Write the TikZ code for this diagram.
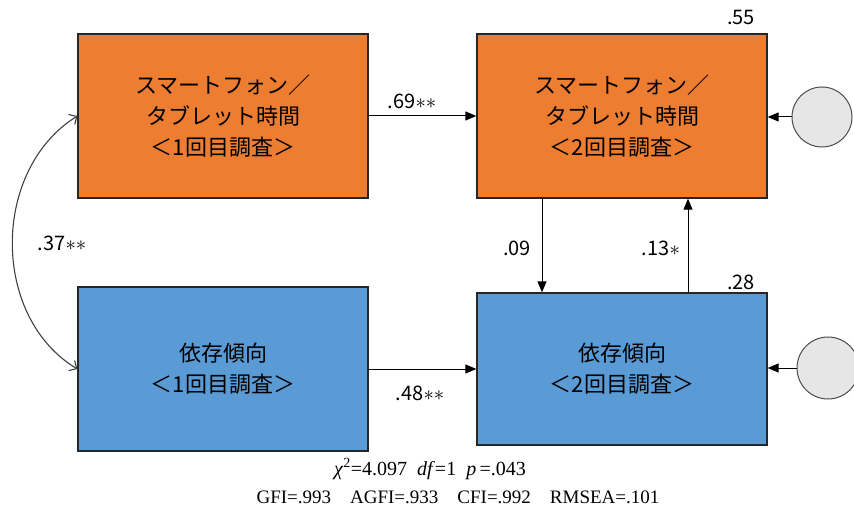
\documentclass[tikz,border=0pt]{standalone}
\usepackage{fontspec}
\setmainfont{Liberation Serif}
\newfontfamily\jpfont{Noto Sans CJK JP}
\usetikzlibrary{arrows.meta}
\definecolor{boxorange}{HTML}{ED7D31}
\definecolor{boxblue}{HTML}{5B9BD5}
\definecolor{errgray}{HTML}{E6E6E6}
\newcommand{\sig}{\ensuremath{\ast}}

\begin{document}
\begin{tikzpicture}[x=1pt, y=-1pt,
    var_box/.style={rectangle, draw=black!85, line width=1.3pt, minimum width=290pt, minimum height=164pt, inner sep=0pt, align=center, font=\jpfont\fontsize{22}{31}\selectfont},
    err_node/.style={circle, draw=black!70, line width=1pt, fill=errgray, minimum size=60pt, inner sep=0pt},
    path_arrow/.style={-{Triangle[length=11pt, width=9pt]}, line width=1pt},
    cov_arrow/.style={line width=1.1pt, black!75},
    coef/.style={font=\jpfont\fontsize{20}{20}\selectfont}]

    \useasboundingbox (0, 0) rectangle (854, 521);

    \node[var_box, fill=boxorange] (sp1) at (223, 116) {スマートフォン／\\タブレット時間\\＜1回目調査＞};
    \node[var_box, fill=boxorange] (sp2) at (622, 116) {スマートフォン／\\タブレット時間\\＜2回目調査＞};
    \node[var_box, fill=boxblue] (dep1) at (223, 369) {依存傾向\\＜1回目調査＞};
    \node[var_box, fill=boxblue, minimum height=152pt] (dep2) at (622, 369) {依存傾向\\＜2回目調査＞};

    \node[err_node] (e1) at (822, 117) {};
    \node[err_node, minimum size=62pt] (e2) at (828, 368) {};

    \draw[path_arrow] (sp1) -- (sp2);
    \draw[path_arrow] (dep1) -- (dep2);
    \draw[path_arrow] ([xshift=-80pt]sp2.south) -- ([xshift=-80pt]sp2.south |- dep2.north);
    \draw[path_arrow] ([xshift=66pt]dep2.north) -- ([xshift=66pt]dep2.north |- sp2.south);
    \draw[path_arrow] (e1) -- (e1 -| sp2.east);
    \draw[path_arrow] (e2) -- (e2 -| dep2.east);
    \draw[cov_arrow, {Straight Barb[scale=1.6]}-{Straight Barb[scale=1.6]}] (sp1.west) .. controls (-9, 170) and (-9, 317) .. (dep1.west);

    \node[coef] (c69) at (412, 101) {.69\sig\sig};
    \node[coef] (c48) at (420, 393) {.48\sig\sig};
    \node[coef] (c09) at (517, 248) {.09};
    \node[coef] (c13) at (661, 248) {.13\sig};
    \node[coef] (c37) at (62, 243) {.37\sig\sig};
    \node[coef] (r55) at (741, 18) {.55};
    \node[coef] (r28) at (741, 282) {.28};

    \node[font=\fontsize{20}{20}\selectfont] (fit1) at (430, 469) {\textit{χ}\textsuperscript{2}=4.097\enspace\textit{df}=1\enspace\textit{p}\,=.043};
    \node[font=\fontsize{19}{19}\selectfont] (fit2) at (458, 497) {GFI=.993\quad AGFI=.933\quad CFI=.992\quad RMSEA=.101};
\end{tikzpicture}
\end{document}
